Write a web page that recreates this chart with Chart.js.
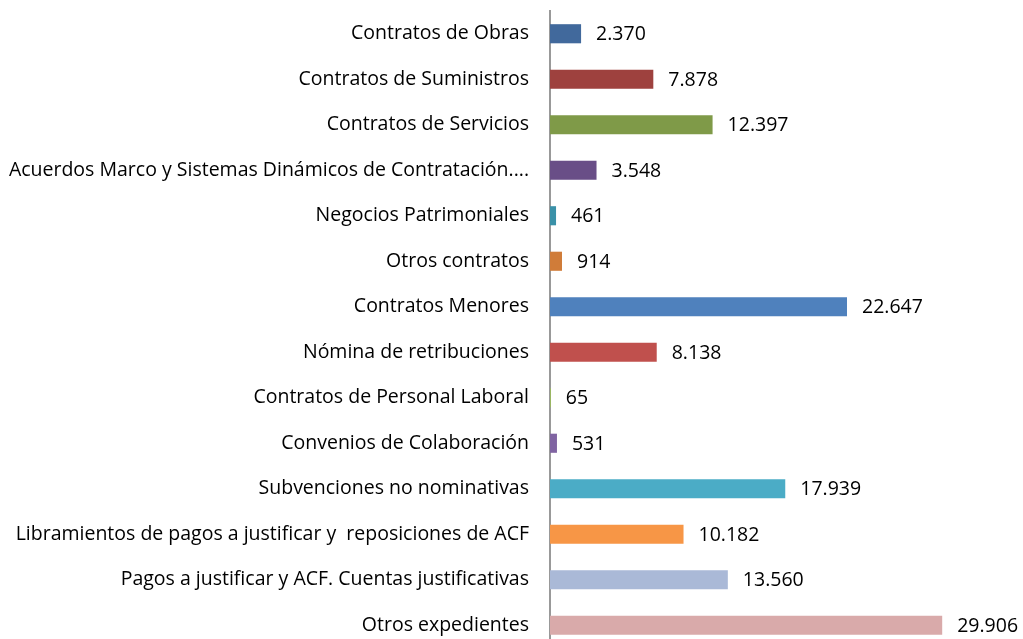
<!DOCTYPE html>
<html>
<head>
<meta charset="utf-8">
<script src="https://cdn.jsdelivr.net/npm/chart.js@4"></script>
<style>
html,body{margin:0;padding:0;background:#fff;overflow:hidden;}
#wrap{width:1023px;height:650px;}
</style>
</head>
<body>
<div id="wrap"><canvas id="c" width="1023" height="650"></canvas></div>
<script>
const categories = [
  "Contratos de Obras",
  "Contratos de Suministros",
  "Contratos de Servicios",
  "Acuerdos Marco y Sistemas Dinámicos de Contratación....",
  "Negocios Patrimoniales",
  "Otros contratos",
  "Contratos Menores",
  "Nómina de retribuciones",
  "Contratos de Personal Laboral",
  "Convenios de Colaboración",
  "Subvenciones no nominativas",
  "Libramientos de pagos a justificar y  reposiciones de ACF",
  "Pagos a justificar y ACF. Cuentas justificativas",
  "Otros expedientes"
];
const values = [2370, 7878, 12397, 3548, 461, 914, 22647, 8138, 65, 531, 17939, 10182, 13560, 29906];
const barColors = ["#41699C","#9E413E","#7F9A48","#694E87","#3A91A8","#D07C39","#4F81BD","#C0504D","#9BBB59","#8064A2","#4BACC6","#F79646","#AAB9D7","#D9AAAA"];
const FONT = "'Open Sans'";
const FSIZE = 19.5;

function fmt(v){ return v.toString().replace(/\B(?=(\d{3})+(?!\d))/g, "."); }

const labelPlugin = {
  id: 'valueLabels',
  afterDatasetsDraw(chart){
    const ctx = chart.ctx;
    const meta = chart.getDatasetMeta(0);
    ctx.save();
    ctx.font = FSIZE + "px " + FONT;
    ctx.fillStyle = "#000";
    ctx.textAlign = "left";
    ctx.textBaseline = "middle";
    meta.data.forEach((el, i) => {
      ctx.fillText(fmt(values[i]), el.x + 15, el.y + 1);
    });
    ctx.restore();
  }
};

new Chart(document.getElementById('c'), {
  type: 'bar',
  data: {
    labels: categories,
    datasets: [{
      data: values,
      backgroundColor: barColors,
      borderWidth: 0,
      barPercentage: 0.42,
      categoryPercentage: 1.0
    }]
  },
  options: {
    indexAxis: 'y',
    responsive: false,
    animation: false,
    devicePixelRatio: 1,
    layout: { padding: { top: 11, bottom: 2, left: 0, right: 14 } },
    plugins: { legend: { display: false }, tooltip: { enabled: false } },
    scales: {
      x: { display: false, min: 0, max: 35000 },
      y: {
        afterFit(scale){ scale.width = 550; scale.paddingTop = 0; scale.paddingBottom = 0; },
        grid: { display: false, drawTicks: false },
        border: { display: true, color: "#999999", width: 2 },
        ticks: { color: "#000", padding: 21, autoSkip: false, font: { family: FONT, size: FSIZE } }
      }
    }
  },
  plugins: [labelPlugin]
});
</script>
</body>
</html>
